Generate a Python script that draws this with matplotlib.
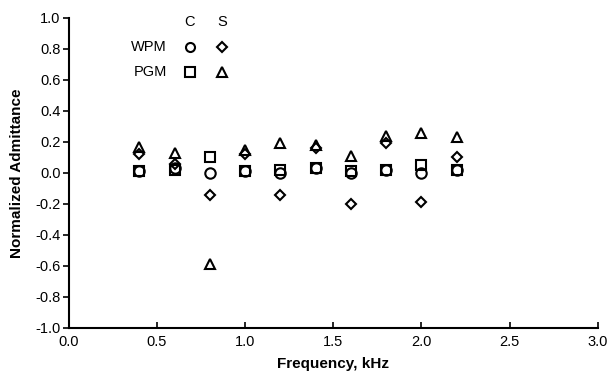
import numpy as np
import matplotlib
matplotlib.use("Agg")
import matplotlib.pyplot as plt

plt.rcParams['font.family'] = ['Liberation Sans', 'DejaVu Sans']

## Data #################################################################################
freq = [0.4, 0.6, 0.8, 1.0, 1.2, 1.4, 1.6, 1.8, 2.0, 2.2]
wpm_c = [0.01, 0.03, 0.00, 0.01, 0.00, 0.03, 0.00, 0.02, 0.00, 0.02]
wpm_s = [0.12, 0.06, -0.14, 0.12, -0.14, 0.16, -0.20, 0.19, -0.19, 0.10]
pgm_c = [0.01, 0.02, 0.10, 0.01, 0.02, 0.03, 0.01, 0.02, 0.05, 0.02]
pgm_s = [0.17, 0.13, -0.59, 0.15, 0.19, 0.18, 0.11, 0.24, 0.26, 0.23]

x_ticks = [0.0, 0.5, 1.0, 1.5, 2.0, 2.5, 3.0]
y_ticks = [-1.0, -0.8, -0.6, -0.4, -0.2, 0.0, 0.2, 0.4, 0.6, 0.8, 1.0]

## Plot #################################################################################
fig = plt.figure(figsize=(6.15, 3.73), dpi=100)
ax = fig.add_axes([0.112, 0.121, 0.86, 0.831])

mk = dict(linestyle='none', markerfacecolor='none', markeredgecolor='black',
          markeredgewidth=1.5, markersize=7.5, clip_on=False)
mk_d = dict(mk, markersize=5.5)
mk_s = dict(mk, markersize=7)
mk_t = dict(mk, markersize=7)

ax.plot(freq, wpm_c, marker='o', **mk)
ax.plot(freq, wpm_s, marker='D', **mk_d)
ax.plot(freq, pgm_c, marker='s', **mk_s)
ax.plot(freq, pgm_s, marker='^', **mk_t)

ax.set_xlim(0, 3.0)
ax.set_ylim(-1.0, 1.0)
ax.set_xticks(x_ticks)
ax.set_yticks(y_ticks)
ax.set_xticklabels(['%.1f' % v for v in x_ticks])
ax.set_yticklabels(['%.1f' % v for v in y_ticks])

for s in ['top', 'right']:
    ax.spines[s].set_visible(False)
for s in ['left', 'bottom']:
    ax.spines[s].set_linewidth(1.5)

ax.tick_params(axis='x', direction='in', length=4, width=1.2, labelsize=10.5, pad=5)
ax.tick_params(axis='y', direction='out', length=4, width=1.2, labelsize=10.5, pad=2)

ax.set_xlabel('Frequency, kHz', fontsize=11, fontweight='bold', labelpad=6)
ax.set_ylabel('Normalized Admittance', fontsize=11, fontweight='bold', labelpad=8)

## Legend (drawn by hand, as in original) ###############################################
tr = ax.transAxes
col_c, col_s = 0.229, 0.289
row_h, row_w, row_p = 0.987, 0.906, 0.826
ax.text(col_c, row_h, 'C', transform=tr, ha='center', va='center', fontsize=10.5)
ax.text(col_s, row_h, 'S', transform=tr, ha='center', va='center', fontsize=10.5)
ax.text(0.185, row_w, 'WPM', transform=tr, ha='right', va='center', fontsize=10.5)
ax.text(0.185, row_p, 'PGM', transform=tr, ha='right', va='center', fontsize=10.5)
ax.plot([col_c], [row_w], marker='o', transform=tr, **dict(mk, markersize=6.5))
ax.plot([col_s], [row_w], marker='D', transform=tr, **dict(mk, markersize=5))
ax.plot([col_c], [row_p], marker='s', transform=tr, **dict(mk, markersize=6.5))
ax.plot([col_s], [row_p], marker='^', transform=tr, **dict(mk, markersize=6.5))

fig.savefig('out.png', dpi=100)
